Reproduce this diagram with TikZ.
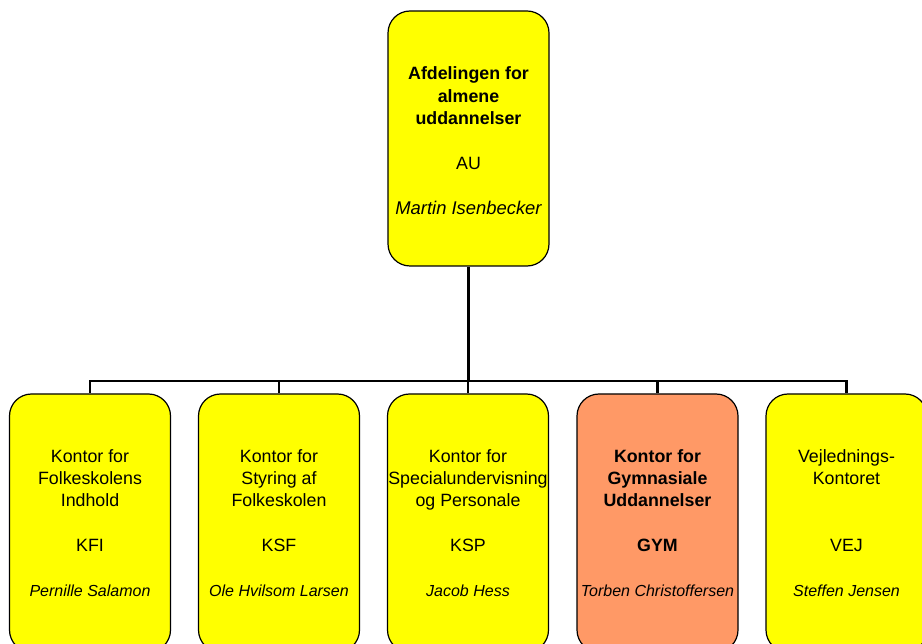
\documentclass[tikz,border=0pt]{standalone}
\usepackage{fontspec}
\setmainfont{Liberation Sans}
\definecolor{boxyellow}{RGB}{255,255,0}
\definecolor{boxorange}{RGB}{255,153,102}
\begin{document}
\begin{tikzpicture}[x=1pt,y=-1pt,
  orgbox/.style={draw=black, line width=1.2pt, rounded corners=22pt, fill=boxyellow,
    minimum width=161pt, inner sep=0pt, align=center,
    font=\fontsize{17.8}{22.4}\selectfont},
  topbox/.style={orgbox, minimum height=255pt},
  lowbox/.style={orgbox, minimum height=258pt},
  conn/.style={draw=black, line width=2.2pt}]
\useasboundingbox (0,0) rectangle (922,644);
\clip (0,0) rectangle (922,644);
\node[topbox] (au) at (468.5,138.5) {\textbf{Afdelingen for}\\\textbf{almene}\\\textbf{uddannelser}\\[22.4pt]AU\\[22.4pt]{\fontsize{18.4}{22.4}\selectfont\itshape Martin Isenbecker}\\[-26.4pt]\mbox{}};
\node[lowbox] (kfi) at (90,523) {Kontor for\\Folkeskolens\\Indhold\\[22.4pt]KFI\\[22.4pt]{\fontsize{16}{22.4}\selectfont\itshape Pernille Salamon}};
\node[lowbox] (ksf) at (279,523) {Kontor for\\Styring af\\Folkeskolen\\[22.4pt]KSF\\[22.4pt]{\fontsize{16}{22.4}\selectfont\itshape Ole Hvilsom Larsen}};
\node[lowbox] (ksp) at (468,523) {Kontor for\\Specialundervisning\\og Personale\\[22.4pt]KSP\\[22.4pt]{\fontsize{16}{22.4}\selectfont\itshape Jacob Hess}};
\node[lowbox, fill=boxorange] (gym) at (657.5,523) {\textbf{Kontor for}\\\textbf{Gymnasiale}\\\textbf{Uddannelser}\\[22.4pt]\textbf{GYM}\\[22.4pt]{\fontsize{16}{22.4}\selectfont\itshape Torben Christoffersen}};
\node[lowbox] (vej) at (846.5,523) {Vejlednings-\\Kontoret\\\mbox{}\\[22.4pt]VEJ\\[22.4pt]{\fontsize{16}{22.4}\selectfont\itshape Steffen Jensen}};
\coordinate (bus) at (468.5,381);
\draw[conn] (au.south) -- (bus);
\foreach \b in {kfi,ksf,ksp,gym,vej}{
  \draw[conn] (bus) -| (\b.north);
}
\end{tikzpicture}
\end{document}
